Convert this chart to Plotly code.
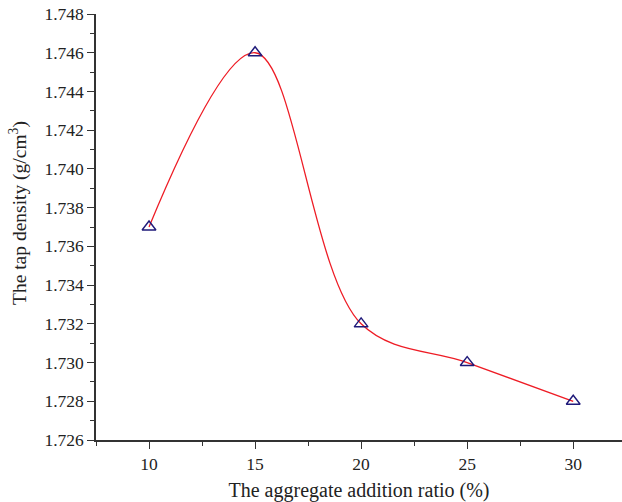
import plotly.graph_objects as go

# Aggregate addition ratio (%) and measured tap density (g/cm^3)
ratio = [10, 15, 20, 25, 30]
tap_density = [1.737, 1.746, 1.732, 1.730, 1.728]

x_tick_vals = [10, 15, 20, 25, 30]
y_tick_vals = [1.726, 1.728, 1.730, 1.732, 1.734, 1.736, 1.738,
               1.740, 1.742, 1.744, 1.746, 1.748]

axis_color = "#333333"
font_family = "Liberation Serif"

fig = go.Figure()

fig.add_trace(go.Scatter(
    x=ratio,
    y=tap_density,
    mode="lines",
    line=dict(color="#ee1c25", width=1.3, shape="spline", smoothing=1.0),
    showlegend=False,
    hoverinfo="skip",
))

fig.add_trace(go.Scatter(
    x=ratio,
    y=tap_density,
    mode="markers",
    marker=dict(symbol="triangle-up-open", size=12, color="#1f1a7a",
                line=dict(width=1.4, color="#1f1a7a")),
    showlegend=False,
))

fig.update_layout(
    width=622,
    height=502,
    margin=dict(l=96, r=0, t=14, b=62),
    paper_bgcolor="white",
    plot_bgcolor="white",
    font=dict(family=font_family, size=17.5, color="#222222"),
    xaxis=dict(
        range=[7.5, 32.3],
        tickvals=x_tick_vals,
        ticktext=[str(v) for v in x_tick_vals],
        ticks="outside",
        ticklen=7,
        tickwidth=1.3,
        tickcolor=axis_color,
        showline=True,
        linecolor=axis_color,
        linewidth=1.5,
        showgrid=False,
        zeroline=False,
        minor=dict(ticks="outside", ticklen=4, tickwidth=1.2,
                   tickcolor=axis_color, tick0=7.5, dtick=5, showgrid=False),
        title=dict(text="The aggregate addition ratio (%)",
                   font=dict(size=20), standoff=10),
        tickfont=dict(size=17.5),
    ),
    yaxis=dict(
        range=[1.726, 1.748],
        tickvals=y_tick_vals,
        ticktext=[f"{v:.3f}" for v in y_tick_vals],
        ticks="outside",
        ticklen=7,
        tickwidth=1.3,
        tickcolor=axis_color,
        showline=True,
        linecolor=axis_color,
        linewidth=1.5,
        showgrid=False,
        zeroline=False,
        minor=dict(ticks="outside", ticklen=4, tickwidth=1.2,
                   tickcolor=axis_color, tick0=1.727, dtick=0.002, showgrid=False),
        tickfont=dict(size=17.5),
    ),
    annotations=[dict(
        text="The tap density (g/cm<sup>3</sup>)",
        textangle=-90,
        xref="paper", yref="paper",
        x=-(96 - 18) / 526, y=(440 - 213) / 426,
        xanchor="center", yanchor="middle",
        showarrow=False,
        font=dict(size=19.5),
    )],
)

fig.write_html("out.html")
